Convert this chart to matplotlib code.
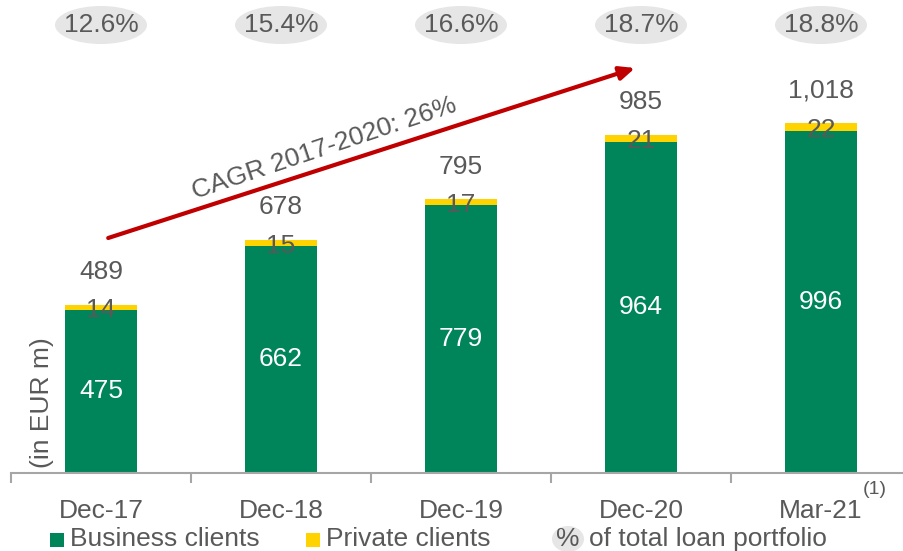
import matplotlib
matplotlib.use("Agg")
import matplotlib.pyplot as plt
from matplotlib.patches import Ellipse, Rectangle
import numpy as np

plt.rcParams['font.family'] = ['Liberation Sans', 'DejaVu Sans']

categories = ["Dec-17", "Dec-18", "Dec-19", "Dec-20", "Mar-21"]
business = [475, 662, 779, 964, 996]
private = [14, 15, 17, 21, 22]
totals = [489, 678, 795, 985, 1018]
shares = ["12.6%", "15.4%", "16.6%", "18.7%", "18.8%"]
cagr_label = "CAGR 2017-2020: 26%"

GREEN = "#00845A"
YELLOW = "#FFD300"
GREY_TXT = "#595959"
ELL = "#E6E6E6"
RED = "#C00000"
FS = 19

W, H = 904, 551
fig = plt.figure(figsize=(W / 100, H / 100), dpi=100)
base_px = 473
ax = fig.add_axes([11 / W, (H - base_px) / H, 900 / W, base_px / H])
scale = 0.3436  # px per unit
ymax = base_px / scale
ax.set_xlim(-0.5, 4.5)
ax.set_ylim(0, ymax)

x = np.arange(len(categories))
ax.bar(x, business, width=0.4, color=GREEN, zorder=2)
ax.bar(x, private, width=0.4, bottom=business, color=YELLOW, zorder=2)

for i in range(len(categories)):
    ax.text(x[i], business[i] / 2, str(business[i]), ha="center", va="center",
            color="white", fontsize=FS, zorder=3)
    ax.text(x[i], business[i] + private[i] / 2 - 8, str(private[i]), ha="center",
            va="center", color=GREY_TXT, fontsize=FS, zorder=3)
    ax.text(x[i], totals[i] + 96, f"{totals[i]:,}", ha="center", va="center",
            color=GREY_TXT, fontsize=FS, zorder=3)
    yc = (base_px - 25) / scale
    ax.add_patch(Ellipse((x[i], yc), 0.511, 38 / scale, facecolor=ELL,
                         edgecolor="none", clip_on=False, zorder=1))
    ax.text(x[i], yc, shares[i], ha="center", va="center", color=GREY_TXT,
            fontsize=FS, zorder=3, clip_on=False)

# CAGR arrow
ax.annotate("", xy=(2.967, (base_px - 68) / scale), xytext=(0.04, (base_px - 238) / scale),
            arrowprops=dict(arrowstyle="-|>,head_length=0.9,head_width=0.4",
                            color=RED, lw=3, shrinkA=0, shrinkB=0), zorder=4)
ax.text(1.24, (base_px - 148) / scale, cagr_label, rotation=18.5,
        rotation_mode="anchor", ha="center", va="center", color=GREY_TXT,
        fontsize=FS, zorder=4)

# axes styling
for s in ["top", "right", "left"]:
    ax.spines[s].set_visible(False)
ax.spines["bottom"].set_color("#A6A6A6")
ax.spines["bottom"].set_linewidth(1.5)
ax.set_yticks([])
ax.set_xticks(np.arange(-0.5, 5.0, 1.0), minor=False)
ax.set_xticklabels([])
ax.tick_params(axis="x", which="major", length=7, color="#A6A6A6", width=1.5)
ax.set_xticks(x, minor=True)
ax.set_xticklabels(categories, minor=True)
ax.tick_params(axis="x", which="minor", length=0, pad=19, labelsize=FS,
               labelcolor=GREY_TXT)

fig.text(42 / W, (H - 403) / H, "(in EUR m)", rotation=90, ha="center",
         va="center", color=GREY_TXT, fontsize=FS)

fig.text(875 / W, (H - 489) / H, "(1)", ha="center", va="center",
         color=GREY_TXT, fontsize=14)

# legend (manual)
ly = (H - 539) / H
fig.patches.append(Rectangle((50 / W, (H - 547) / H), 14 / W, 14 / H,
                             transform=fig.transFigure, facecolor=GREEN,
                             edgecolor="none"))
fig.text(70 / W, ly, "Business clients", ha="left", va="center",
         color=GREY_TXT, fontsize=FS)
fig.patches.append(Rectangle((306 / W, (H - 547) / H), 14 / W, 14 / H,
                             transform=fig.transFigure, facecolor=YELLOW,
                             edgecolor="none"))
fig.text(326 / W, ly, "Private clients", ha="left", va="center",
         color=GREY_TXT, fontsize=FS)
fig.patches.append(Ellipse((568 / W, ly), 32 / W, 26 / H,
                           transform=fig.transFigure, facecolor=ELL,
                           edgecolor="none"))
fig.text(568 / W, ly, "%", ha="center", va="center", color=GREY_TXT, fontsize=FS)
fig.text(589 / W, ly, "of total loan portfolio", ha="left", va="center",
         color=GREY_TXT, fontsize=FS)

fig.savefig("out.png", dpi=100)
